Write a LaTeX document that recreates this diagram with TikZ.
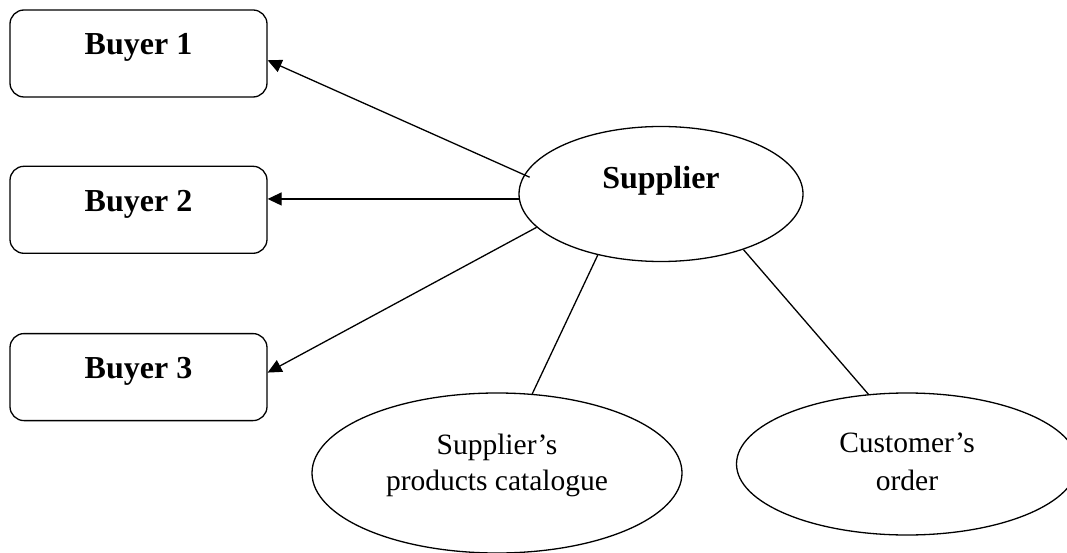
\documentclass[tikz,border=0pt]{standalone}
\usepackage{fontspec}
\setmainfont{Liberation Serif}
\usetikzlibrary{positioning,shapes.geometric,arrows.meta}

\begin{document}
\begin{tikzpicture}[x=1pt, y=-1pt, line width=1.3pt, >={Triangle[length=14pt,width=13pt]},
    buyerBox/.style={draw, rounded corners=14pt, minimum width=257pt, minimum height=87pt, inner sep=0pt,
        font=\fontsize{32}{38}\selectfont\bfseries, text height=22pt, text depth=19pt},
    topic/.style={draw, shape=ellipse, inner sep=0pt, align=center, font=\fontsize{29.5}{37}\selectfont}]
    \useasboundingbox (0,0) rectangle (1067,553);

    \node[buyerBox] (buyer1) at (138.5,53.5) {Buyer 1};
    \node[buyerBox, below=68pt of buyer1] (buyer2) {Buyer 2};
    \node[buyerBox, below=79pt of buyer2] (buyer3) {Buyer 3};

    \node[topic, minimum width=284pt, minimum height=135pt, font=\fontsize{32}{38}\selectfont\bfseries,
        text height=22pt, text depth=32pt] (supplier) at (661,194) {Supplier};
    \node[topic, minimum width=370pt, minimum height=160pt, font=\fontsize{29.5}{36}\selectfont,
        text height=57pt, text depth=23pt] (catalogue) at (497,473) {Supplier’s\\products catalogue};
    \node[topic, minimum width=341pt, minimum height=142pt, font=\fontsize{29.5}{38}\selectfont,
        text height=59pt, text depth=7pt] (custOrder) at (907,464) {Customer’s\\order};

    \draw[->, shorten <=-6pt] (supplier.172) -- (buyer1.-3);
    \draw[->] (supplier.182) -- (supplier.182 -| buyer2.east);
    \draw[->] (supplier.195) -- (buyer3.2);
    \draw (supplier.224) -- (catalogue.66);
    \draw (supplier.-34) -- (custOrder.119);
\end{tikzpicture}
\end{document}
